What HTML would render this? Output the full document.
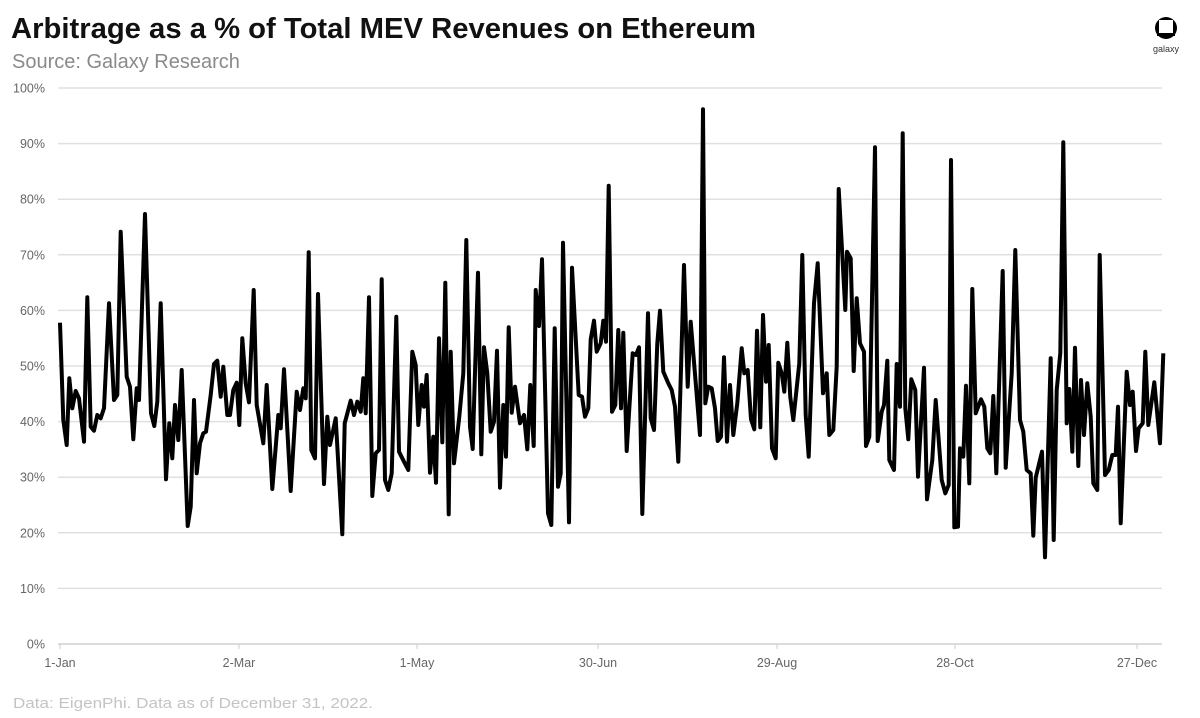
<!DOCTYPE html>
<html><head><meta charset="utf-8"><style>
body{margin:0;background:#fff;width:1200px;height:718px;overflow:hidden;font-family:"Liberation Sans",sans-serif}
</style></head><body>
<svg id="s" width="1200" height="718" xmlns="http://www.w3.org/2000/svg" style="position:absolute;left:0;top:0">
<text x="11" y="38" font-size="29" font-weight="bold" font-family="Liberation Sans" fill="#111" textLength="745" lengthAdjust="spacingAndGlyphs">Arbitrage as a % of Total MEV Revenues on Ethereum</text>
<text x="12" y="68" font-size="20" font-family="Liberation Sans" fill="#8a8a8a">Source: Galaxy Research</text>
<text x="13" y="708" font-size="15" font-family="Liberation Sans" fill="#c4c4c4" textLength="360" lengthAdjust="spacingAndGlyphs">Data: EigenPhi. Data as of December 31, 2022.</text>
<g transform="translate(1166,28)">
<circle cx="0" cy="0" r="11" fill="#000"/><rect x="-7" y="-8" width="14" height="13" fill="#fff"/><rect x="-9" y="5" width="18" height="3" fill="#000"/>
</g>
<text x="1166" y="52" font-size="9" text-anchor="middle" fill="#333">galaxy</text>
<g id="grid"></g>
<polyline id="line" fill="none" stroke="#000" stroke-width="4" stroke-linejoin="round"/>
</svg>
<script>
var g=document.getElementById('grid'),h='';
for(var i=0;i<=10;i++){var y=644-i*55.6;
h+='<line x1="58" x2="1162" y1="'+y+'" y2="'+y+'" stroke="'+(i==0?'#d0d0d0':'#e0e0e0')+'" stroke-width="1.5"/>';
h+='<text x="45" y="'+(y+4.5)+'" font-size="12.5" text-anchor="end" fill="#666" font-family="Liberation Sans">'+(i*10)+'%</text>';}
var L=[[60,'1-Jan'],[239,'2-Mar'],[417,'1-May'],[598,'30-Jun'],[777,'29-Aug'],[955,'28-Oct'],[1137,'27-Dec']];
L.forEach(function(l){h+='<line x1="'+l[0]+'" x2="'+l[0]+'" y1="644" y2="649" stroke="#ccc"/><text x="'+l[0]+'" y="667" font-size="12.5" text-anchor="middle" fill="#666" font-family="Liberation Sans">'+l[1]+'</text>';});
g.innerHTML=h;
var z1=[60,698,70,990,80,1065,88,865,97,955,107,903,117,925,132,1055,142,622,152,1010,162,1022,172,975,182,985,192,955,207,640,222,930,232,915,242,425,260,860,270,890,280,1048,290,895,297,930,315,372,333,970,343,1008,352,935,362,640,378,1168,388,1000,397,1105,405,945,415,1050,425,840,443,1308,452,1250,462,930,470,1150,480,1060,490,1030,498,1025,512,915,522,822,532,812,542,920,550,830,562,975,570,975,580,900,590,878,598,1005,607,745,617,880,627,937,641,600,650,945,670,1060,680,885,697,1197,715,975,722,1015,732,838,752,1203,770,905,780,960,790,895,797,925,806,487,814,1080,825,1105,834,612,852,1182,862,980,870,1065];
var z2=[47,985,67,1333,74,1000,92,932,102,975,112,935,122,965,130,865,137,970,147,622,157,1218,167,1090,177,1080,185,568,195,1170,205,1200,215,1150,229,680,237,1085,252,1115,265,1140,277,785,287,825,295,1005,305,885,312,950,320,855,330,1148,340,1040,348,1178,357,745,367,1057,376,578,386,1273,392,785,402,1120,418,980,430,850,439,450,450,1010,458,1077,474,548,484,1093,492,772,502,850,512,1025,522,995,531,782,540,1193,550,945,558,1100,566,712,575,968,585,890,600,1000,612,975,622,1078,631,885,641,1068,647,600,657,708,666,508,684,1270,694,1305,704,715,714,1190,722,1150,729,458,747,1297,756,533,776,915,786,920,795,980,805,955,812,748,822,692,830,785,842,760,850,692,858,755,866,287];
var z3=[36,965,46,945,55,720,63,955,70,728,80,1083,98,790,108,795,117,772,127,1272,144,670,152,985,162,1020,172,760,180,662,190,845,205,880,215,900,225,950,235,1115,252,525,263,890,272,695,300,1035,309,58,316,940,325,890,335,895,345,955,353,1053,363,1040,372,802,381,1055,390,885,400,1035,412,940,425,775,433,850,443,840,453,988,463,1018,471,722,481,1012,489,675,498,875,506,765,516,1075,527,1105,535,818,545,850,553,905,562,758,571,922,580,990,598,820,607,495,617,975,626,1100,642,640,653,520,669,910,680,850,688,1035,700,1020,710,830,716,297,736,660,741,485,752,505,761,843,770,625,780,760,792,785,798,1068,808,1040,825,172,833,1053,845,965,852,945,862,812,868,1110];
var z4=[42,1140,50,822,60,950,68,130,76,955,85,1048,94,868,106,900,114,1160,132,833,141,1228,157,1110,167,930,185,1170,196,1210,206,1185,213,210,223,1312,234,1310,240,1075,250,1100,258,887,268,1180,277,597,287,970,303,928,313,950,322,1075,331,1090,340,918,349,1150,368,543,377,1133,395,850,406,480,420,990,430,1025,440,1140,452,1150,460,1337,467,1163,486,1085,495,1402,512,805,521,1350,530,900,541,790,550,157,560,1000,568,897,577,1085,585,773,595,1128,603,870,612,1035,622,880,632,980,640,1180,652,1200,659,495,675,1155,686,1140,697,1095,707,1095,714,950,722,1300,740,845,750,945,758,905,768,1083,776,1015,788,1000,796,785,805,1005,823,877,840,1060,850,790];
var pts=[];
[[z1,40],[z2,320],[z3,600],[z4,880]].forEach(function(p){var a=p[0];for(var i=0;i<a.length;i+=2){pts.push((p[1]+a[i]/3).toFixed(1)+','+(90+a[i+1]/3).toFixed(1));}});
document.getElementById('line').setAttribute('points',pts.join(' '));
</script>
</body></html>
